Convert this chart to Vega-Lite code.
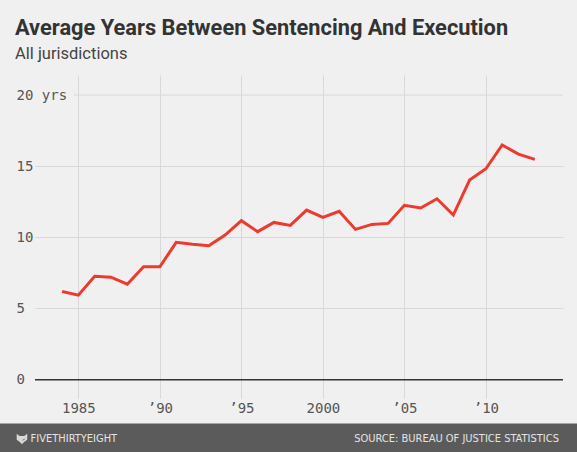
{
  "$schema": "https://vega.github.io/schema/vega-lite/v6.json",
  "autosize": {"type": "none"},
  "padding": {"left": 35, "top": 75, "right": 14, "bottom": 54},
  "width": 528,
  "height": 323,
  "background": "#f0f0f0",
  "title": {
    "text": "Average Years Between Sentencing And Execution",
    "subtitle": "All jurisdictions",
    "anchor": "start",
    "frame": "group",
    "dx": -20,
    "offset": 13,
    "font": "Roboto",
    "fontSize": 21.8,
    "fontWeight": "bold",
    "color": "#333333",
    "subtitleFont": "Roboto",
    "subtitleFontSize": 16.5,
    "subtitleColor": "#444444",
    "subtitlePadding": 6
  },
  "config": {
    "view": {"stroke": null},
    "axis": {"domain": false, "ticks": false, "gridColor": "#d8d8d8", "gridWidth": 1, "labelFont": "DejaVu Sans Mono", "labelFontSize": 14, "labelColor": "#555555"}
  },
  "layer": [
    {
      "data": {"values": [{"part": "footer"}]},
      "mark": {"type": "rect", "color": "#5b5b5b"},
      "encoding": {
        "x": {"datum": 1980.19, "type": "quantitative", "title": null},
        "x2": {"datum": 2015.6},
        "y": {"datum": -3.08, "type": "quantitative", "title": null},
        "y2": {"datum": -5.3}
      }
    },
    {
      "data": {"values": [{"part": "grid20"}]},
      "mark": {"type": "rule", "color": "#d8d8d8", "strokeWidth": 1},
      "encoding": {
        "x": {"datum": 1984.73, "type": "quantitative", "title": null},
        "x2": {"datum": 2014.73},
        "y": {"datum": 20, "type": "quantitative", "title": null}
      }
    },
    {
      "data": {"values": [{"part": "baseline"}]},
      "mark": {"type": "rule", "color": "#333333", "strokeWidth": 1.5},
      "encoding": {
        "y": {"datum": 0, "type": "quantitative", "title": null}
      }
    },
    {
      "data": {"values": [
        {"year": 1984, "years": 6.19},
        {"year": 1985, "years": 5.94},
        {"year": 1986, "years": 7.27},
        {"year": 1987, "years": 7.2},
        {"year": 1988, "years": 6.71},
        {"year": 1989, "years": 7.93},
        {"year": 1990, "years": 7.93},
        {"year": 1991, "years": 9.65},
        {"year": 1992, "years": 9.51},
        {"year": 1993, "years": 9.41},
        {"year": 1994, "years": 10.16},
        {"year": 1995, "years": 11.17},
        {"year": 1996, "years": 10.4},
        {"year": 1997, "years": 11.05},
        {"year": 1998, "years": 10.84},
        {"year": 1999, "years": 11.92},
        {"year": 2000, "years": 11.4},
        {"year": 2001, "years": 11.83},
        {"year": 2002, "years": 10.56},
        {"year": 2003, "years": 10.91},
        {"year": 2004, "years": 10.98},
        {"year": 2005, "years": 12.25},
        {"year": 2006, "years": 12.06},
        {"year": 2007, "years": 12.71},
        {"year": 2008, "years": 11.57},
        {"year": 2009, "years": 14.03},
        {"year": 2010, "years": 14.82},
        {"year": 2011, "years": 16.49},
        {"year": 2012, "years": 15.85},
        {"year": 2013, "years": 15.48}
      ]},
      "mark": {"type": "line", "color": "#ec3a2d", "strokeWidth": 3, "strokeJoin": "miter"},
      "encoding": {
        "x": {
          "field": "year", "type": "quantitative", "title": null,
          "scale": {"domain": [1982.34, 2014.73], "nice": false, "zero": false},
          "axis": {
            "values": [1985, 1990, 1995, 2000, 2005, 2010],
            "labelExpr": "datum.value == 1985 || datum.value == 2000 ? '' + datum.value : '’' + slice('' + datum.value, 2)",
            "labelPadding": 3,
            "labelBaseline": "top",
            "grid": true
          }
        },
        "y": {
          "field": "years", "type": "quantitative", "title": null,
          "scale": {"domain": [-1.29, 21.41], "nice": false, "zero": false},
          "axis": {
            "values": [0, 5, 10, 15, 20],
            "labelExpr": "datum.value == 20 ? '20 yrs' : (datum.value < 10 ? ' ' + datum.value : '' + datum.value)",
            "labelAlign": "left",
            "labelBaseline": "middle",
            "labelPadding": 19,
            "grid": true,
            "gridOpacity": {"condition": {"test": "datum.value == 0 || datum.value == 20", "value": 0}, "value": 1}
          }
        }
      }
    },
    {
      "data": {"values": [{"label": "FIVETHIRTYEIGHT"}]},
      "mark": {"type": "text", "align": "left", "baseline": "middle", "font": "Liberation Sans Narrow, DejaVu Sans Condensed, Roboto, sans-serif", "fontSize": 11, "color": "#e4e4e4", "letterSpacing": 0.3},
      "encoding": {
        "x": {"datum": 1982.07, "type": "quantitative", "title": null},
        "y": {"datum": -4.17, "type": "quantitative", "title": null},
        "text": {"field": "label"}
      }
    },
    {
      "data": {"values": [{"label": "SOURCE: BUREAU OF JUSTICE STATISTICS"}]},
      "mark": {"type": "text", "align": "right", "baseline": "middle", "font": "Liberation Sans Narrow, DejaVu Sans Condensed, Roboto, sans-serif", "fontSize": 11, "color": "#e4e4e4", "letterSpacing": -0.5},
      "encoding": {
        "x": {"datum": 2014.48, "type": "quantitative", "title": null},
        "y": {"datum": -4.17, "type": "quantitative", "title": null},
        "text": {"field": "label"}
      }
    },
    {
      "data": {"values": [{"label": "logo"}]},
      "mark": {"type": "point", "filled": true, "color": "#d9d9d9", "opacity": 1, "size": 110, "shape": "M-1,-1 L-0.45,-0.55 L0.45,-0.55 L1,-1 L1,0.15 L0.35,0.6 L0,1 L-0.35,0.6 L-1,0.15 Z M-0.55,-0.1 L-0.1,0.2 L-0.1,0.35 L-0.55,0.05 Z M0.55,-0.1 L0.1,0.2 L0.1,0.35 L0.55,0.05 Z"},
      "encoding": {
        "x": {"datum": 1981.54, "type": "quantitative", "title": null},
        "y": {"datum": -4.17, "type": "quantitative", "title": null}
      }
    }
  ]
}
